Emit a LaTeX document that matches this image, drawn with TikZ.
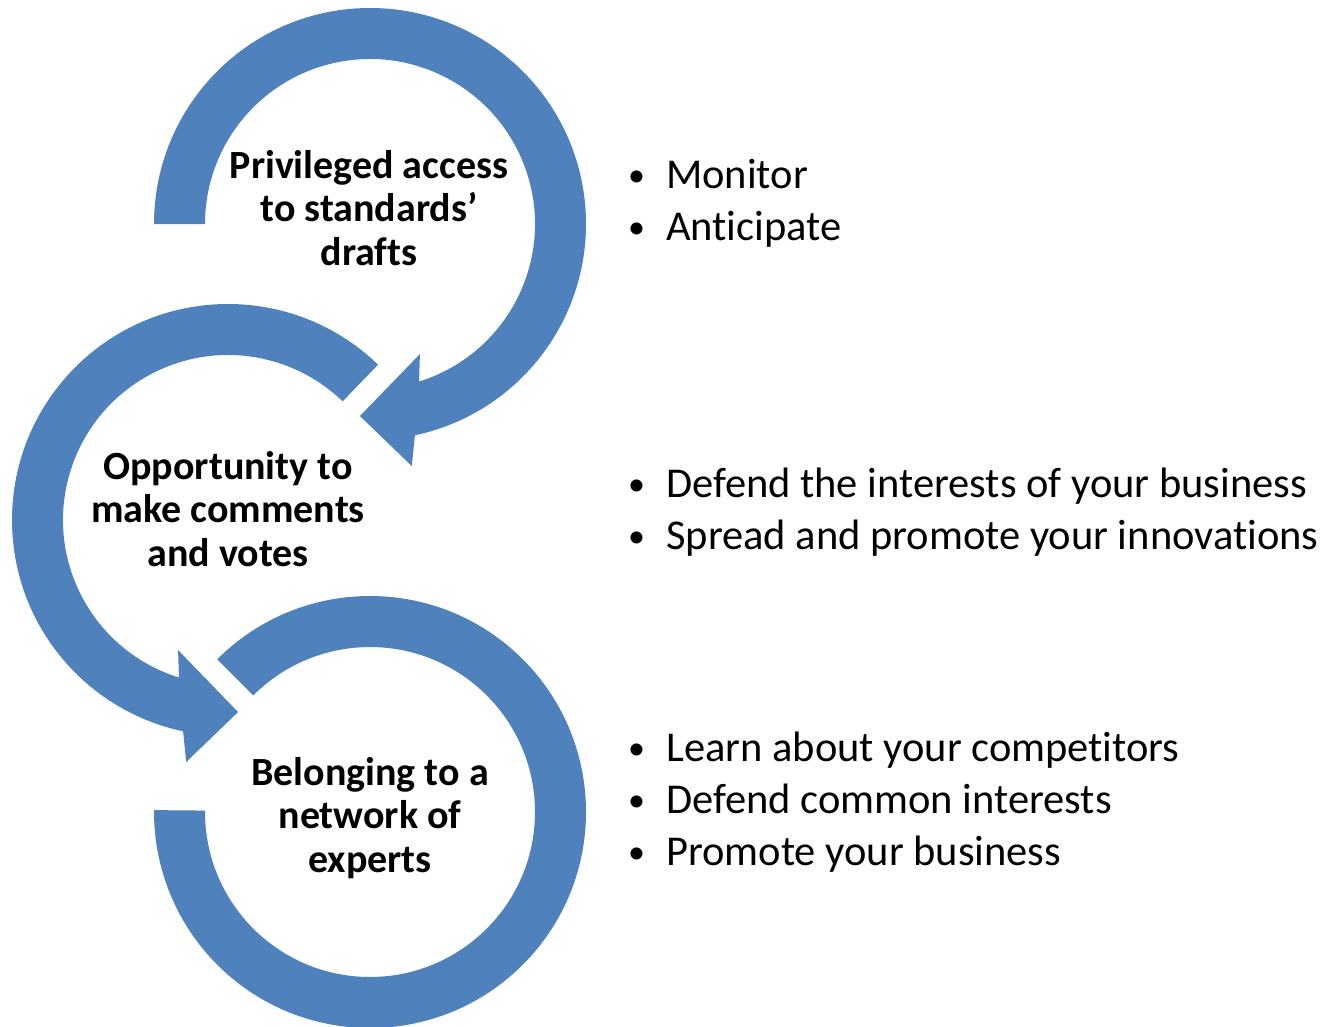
\documentclass[tikz,border=0pt]{standalone}
\usepackage{fontspec}
\setmainfont{Carlito}[Ligatures=NoCommon]
\definecolor{arrowblue}{HTML}{4F81BD}
% one bullet line: small bullet, fixed gap, text
\newcommand{\bulletline}[1]{\makebox[38pt][l]{\raisebox{2pt}{\fontsize{34}{52}\selectfont •}}#1}

\begin{document}
\begin{tikzpicture}[x=1pt,y=1pt,
  cyclearrow/.style={fill=arrowblue, draw=none},
  steplabel/.style={font=\bfseries\fontsize{40}{43.5}\selectfont, align=center, inner sep=0pt},
  bulletlist/.style={font=\fontsize{42.5}{52}\selectfont, anchor=base west, inner sep=0pt}]

\useasboundingbox (0,0) rectangle (1324,-1026);

% centres of the three circular arrows
\coordinate (c1) at (370,-224);
\coordinate (c2) at (228,-520);
\coordinate (c3) at (370,-812);

% upper arrow: clockwise from the left, head pointing to the middle ring
\fill[cyclearrow, shift={(c1)}]
  (180:216) arc[start angle=180, end angle=-78, radius=216]
  -- (-80.2:245.6) -- (-93:192.3) -- (-69:139.3) -- (-72.7:165)
  arc[start angle=-72.7, end angle=180, radius=165] -- cycle;

% middle arrow: counter-clockwise from the upper right
\fill[cyclearrow, shift={(c2)}]
  (46:216) arc[start angle=46, end angle=258, radius=216]
  -- (260.2:245.6) -- (273:192.3) -- (249:139.3) -- (252.7:165)
  arc[start angle=252.7, end angle=46, radius=165] -- cycle;

% lower ring: clockwise from the upper left, ending flat at the left
\fill[cyclearrow, shift={(c3)}]
  (135:216) arc[start angle=135, end angle=-180.5, radius=216]
  -- (-180.5:165) arc[start angle=-180.5, end angle=135, radius=165] -- cycle;

% ring labels
\node[steplabel] (l1) at (369,-208) {Privileged access\\to standards’\\drafts};
\node[steplabel] (l2) at (228,-509) {Opportunity to\\make comments\\and votes};
\node[steplabel] (l3) at (370,-818) {Belonging to a\\network of\\experts};

% bullet lists
\node[bulletlist] (b1) at (628,-188) {\begin{tabular}[t]{@{}l@{}}
  \bulletline{Monitor}\\
  \bulletline{Anticipate}
\end{tabular}};
\node[bulletlist] (b2) at (628,-497) {\begin{tabular}[t]{@{}l@{}}
  \bulletline{Defend the interests of your business}\\
  \bulletline{Spread and promote your innovations}
\end{tabular}};
\node[bulletlist] (b3) at (628,-761) {\begin{tabular}[t]{@{}l@{}}
  \bulletline{Learn about your competitors}\\
  \bulletline{Defend common interests}\\
  \bulletline{Promote your business}
\end{tabular}};
\end{tikzpicture}
\end{document}
